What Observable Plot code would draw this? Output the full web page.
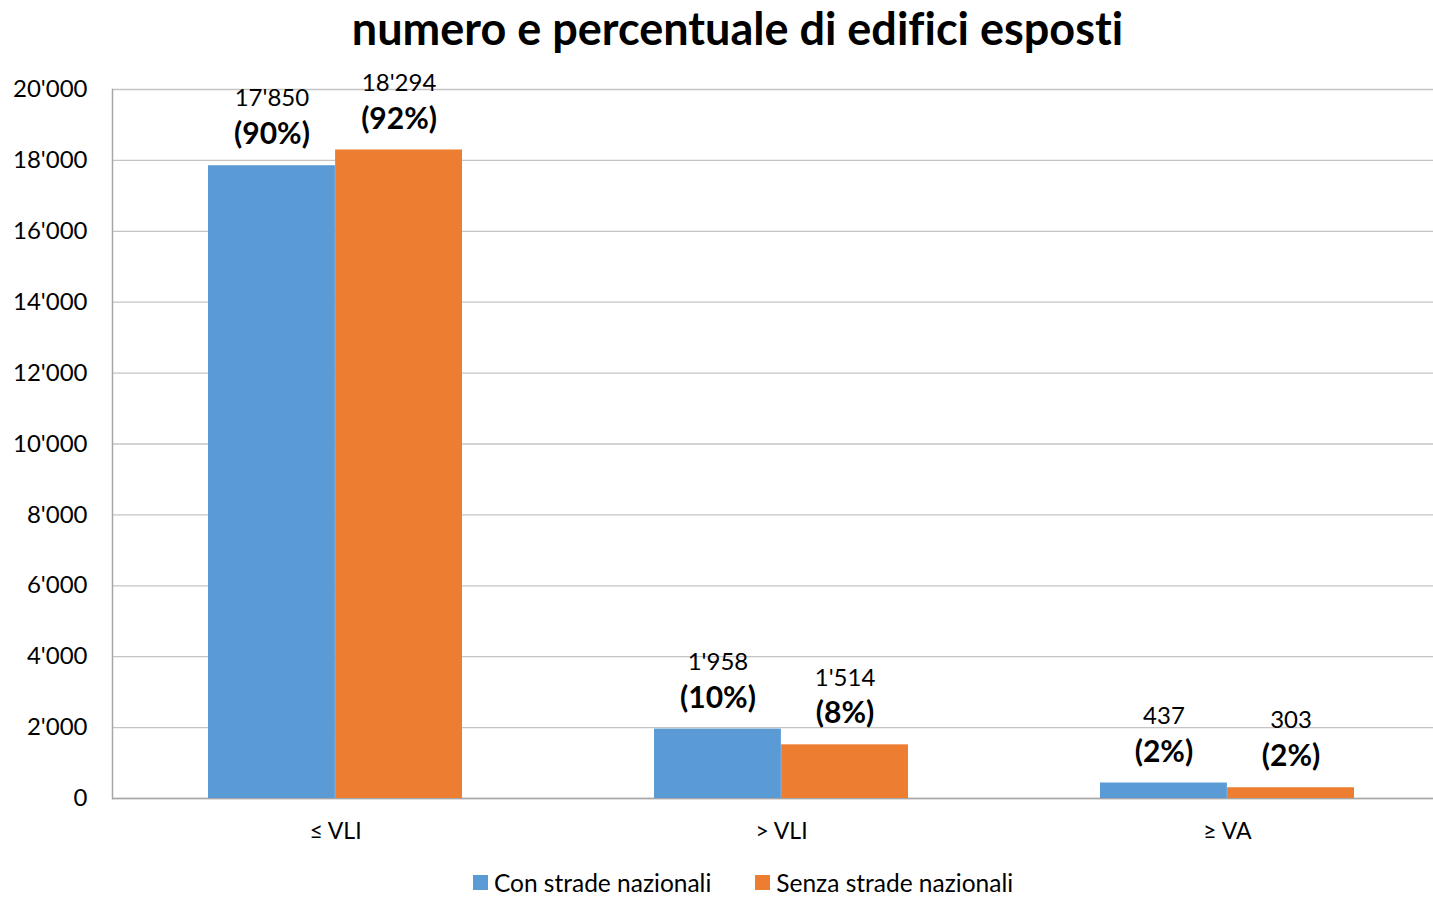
<!DOCTYPE html>
<html><head><meta charset="utf-8">
<script src="https://cdn.jsdelivr.net/npm/d3@7"></script>
<script src="https://cdn.jsdelivr.net/npm/@observablehq/plot@0.6"></script>
<style>
body{margin:0;background:#fff;font-family:Lato,sans-serif;width:1433px;height:898px;overflow:hidden;position:relative;font-variant-ligatures:none;}
#title{position:absolute;top:0;left:0;width:1433px;height:56px;line-height:56px;text-align:center;font-size:45px;font-weight:bold;color:#000;padding-left:42px;box-sizing:border-box;font-variant-ligatures:none;}
#chart{position:absolute;top:60px;left:0;width:1450px;}
#chart svg{max-width:none !important;}
#legend{position:absolute;top:868px;left:0;width:1433px;display:flex;justify-content:center;gap:44px;font-size:24.5px;padding-left:53px;box-sizing:border-box;color:#000;line-height:29px;}
.item{display:flex;align-items:center}
.sw{width:15px;height:15px;margin-right:6px}
</style></head><body>
<div id="title">numero e percentuale di edifici esposti</div>
<div id="chart"></div>
<div id="legend"></div>
<script>
const categories = ["≤ VLI", "> VLI", "≥ VA"];
const series = ["Con strade nazionali", "Senza strade nazionali"];
const conValues = [17850, 1958, 437];
const senzaValues = [18294, 1514, 303];
const conPct = ["(90%)", "(10%)", "(2%)"];
const senzaPct = ["(92%)", "(8%)", "(2%)"];
const yTicks = [0, 2000, 4000, 6000, 8000, 10000, 12000, 14000, 16000, 18000, 20000];
const colors = ["#5B9BD5", "#ED7D31"];

const fmt = d => d3.format(",")(d).replace(/,/g, "'");
const conRows = categories.map((c, i) => ({category: c, series: series[0], value: conValues[i], label: fmt(conValues[i]), pct: conPct[i]}));
const senzaRows = categories.map((c, i) => ({category: c, series: series[1], value: senzaValues[i], label: fmt(senzaValues[i]), pct: senzaPct[i]}));

const W = 1450, ML = 112, MR = 0, PI = 0.43, PO = 0.215;
const step = (W - ML - MR) / (categories.length - PI + 2 * PO);
const half = step * (1 - PI) / 2;

const chart = Plot.plot({
  width: W, height: 790,
  marginLeft: ML, marginRight: MR, marginTop: 29, marginBottom: 52,
  style: {fontFamily: "Lato, sans-serif", fontSize: "24px", color: "#000", background: "transparent", overflow: "visible", maxWidth: "none"},
  x: {domain: categories, paddingInner: PI, paddingOuter: PO, label: null},
  y: {domain: [0, 20000], label: null},
  color: {domain: series, range: colors},
  marks: [
    Plot.ruleY(yTicks, {stroke: "#c4c4c4", strokeWidth: 1.3}),
    Plot.frame({anchor: "left", stroke: "#a6a6a6", strokeWidth: 1.5}),
    Plot.ruleY([0], {stroke: "#a6a6a6", strokeWidth: 1.5}),
    Plot.barY(conRows, {x: "category", y: "value", fill: "series", insetRight: half}),
    Plot.barY(senzaRows, {x: "category", y: "value", fill: "series", insetLeft: half}),
    Plot.text(conRows, {x: "category", y: "value", text: "label", dx: -half / 2, dy: -67, fontSize: 24, fill: "#000", lineAnchor: "middle"}),
    Plot.text(senzaRows, {x: "category", y: "value", text: "label", dx: half / 2, dy: -67, fontSize: 24, fill: "#000", lineAnchor: "middle"}),
    Plot.text(conRows, {x: "category", y: "value", text: "pct", dx: -half / 2, dy: -31, fontSize: 30, fontWeight: "bold", fill: "#000", lineAnchor: "middle"}),
    Plot.text(senzaRows, {x: "category", y: "value", text: "pct", dx: half / 2, dy: -31, fontSize: 30, fontWeight: "bold", fill: "#000", lineAnchor: "middle"}),
    Plot.axisY(yTicks, {tickSize: 0, tickPadding: 25, tickFormat: fmt, fontSize: 24}),
    Plot.axisX({tickSize: 0, tickPadding: 24, fontSize: 23})
  ]
});
document.getElementById("chart").appendChild(chart);

const legend = document.getElementById("legend");
series.forEach((s, i) => {
  const item = document.createElement("div");
  item.className = "item";
  const sw = document.createElement("span");
  sw.className = "sw";
  sw.style.background = colors[i];
  item.appendChild(sw);
  item.appendChild(document.createTextNode(s));
  legend.appendChild(item);
});
</script>
</body></html>
